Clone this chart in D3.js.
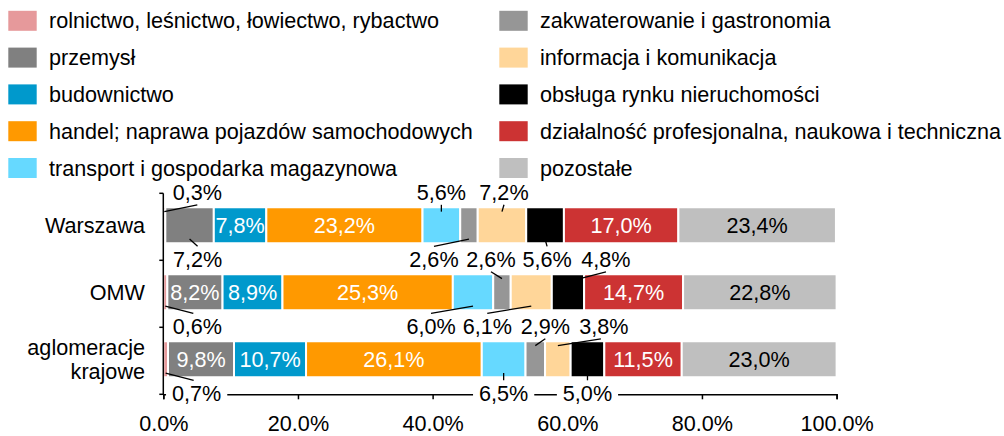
<!DOCTYPE html>
<html>
<head>
<meta charset="utf-8">
<script src="https://cdn.jsdelivr.net/npm/d3@7"></script>
<style>
  body { margin: 0; background: #fff; }
  svg { display: block; font-family: "Liberation Sans", Arial, sans-serif; }
</style>
</head>
<body>
<div id="chart"></div>
<script>
// categories (rows) and sectors (stack keys)
const categories = ["Warszawa", "OMW", "aglomeracje krajowe"];
const sectors = [
  "rolnictwo, leśnictwo, łowiectwo, rybactwo",
  "przemysł",
  "budownictwo",
  "handel; naprawa pojazdów samochodowych",
  "transport i gospodarka magazynowa",
  "zakwaterowanie i gastronomia",
  "informacja i komunikacja",
  "obsługa rynku nieruchomości",
  "działalność profesjonalna, naukowa i techniczna",
  "pozostałe"
];

// series values (%), one array per row, in sector order
const warszawa    = [0.3, 7.2, 7.8, 23.2, 5.6, 2.6, 7.2, 5.6, 17.0, 23.4];
const omw         = [0.6, 8.2, 8.9, 25.3, 6.0, 2.6, 6.1, 4.8, 14.7, 22.8];
const aglomeracje = [0.7, 9.8, 10.7, 26.1, 6.5, 2.9, 3.8, 5.0, 11.5, 23.0];

const xTicks = [0, 20, 40, 60, 80, 100];

const colors = ["#E6999B", "#808080", "#0099CC", "#FF9900", "#66D9FF",
                "#969696", "#FFD699", "#000000", "#CC3333", "#BFBFBF"];

// labels placed outside the bar (with a leader line); the rest go inside
// row, sector, side, dx = text shift from segment centre, ldx/bdx = leader end shifts
const callouts = [
  {row: 0, s: 0, side: "above", dx: 33},
  {row: 0, s: 1, side: "below", dx: 8},
  {row: 0, s: 4, side: "above", dx: 0},
  {row: 0, s: 5, side: "below", dx: -35},
  {row: 0, s: 6, side: "above", dx: 2},
  {row: 0, s: 7, side: "below", dx: 2},
  {row: 1, s: 0, side: "below", dx: 32, ldx: -4},
  {row: 1, s: 4, side: "below", dx: -42},
  {row: 1, s: 5, side: "above", dx: -11},
  {row: 1, s: 6, side: "below", dx: -44},
  {row: 1, s: 7, side: "above", dx: 38, bdx: 12},
  {row: 2, s: 0, side: "below", dx: 31, ldx: -3},
  {row: 2, s: 4, side: "below", dx: 0},
  {row: 2, s: 5, side: "above", dx: 10},
  {row: 2, s: 6, side: "above", dx: 46, ldx: -3},
  {row: 2, s: 7, side: "below", dx: 0}
];

const W = 1004, H = 436;
const FS = 21.6;
const svg = d3.select("#chart").append("svg").attr("width", W).attr("height", H);

const rows = [warszawa, omw, aglomeracje].map((vals, i) => {
  const o = {cat: categories[i]};
  sectors.forEach((s, j) => o[s] = vals[j]);
  return o;
});
const series = d3.stack().keys(sectors)(rows);

const x = d3.scaleLinear().domain([0, 100]).range([163.3, 836.6]);
const y = d3.scaleBand().domain(categories).range([193.3, 394.3])
  .paddingInner(0.463).paddingOuter(0.2315).align(0.45);
const step = y.step();
const boundary = i => y.range()[0] + i * step;
const fmt = v => v.toFixed(1).replace(".", ",") + "%";

// legend
const legend = svg.append("g");
sectors.forEach((s, i) => {
  const col = i < 5 ? 0 : 1;
  const r = i % 5;
  const lx = col ? 499.3 : 8.3;
  const cy = 20.8 + r * 36.8;
  legend.append("rect").attr("x", lx).attr("y", cy - 10).attr("width", 28.4).attr("height", 20)
    .attr("fill", colors[i]);
  legend.append("text").attr("x", lx + 40.7).attr("y", cy + 7.5)
    .attr("font-size", FS).attr("fill", "#000").text(s);
});

// bars
svg.append("g").selectAll("g").data(series).enter().append("g")
  .attr("fill", (d, i) => colors[i])
  .selectAll("rect").data(d => d).enter().append("rect")
  .attr("x", d => x(d[0]))
  .attr("y", d => y(d.data.cat))
  .attr("width", d => Math.max(0, x(d[1]) - x(d[0])))
  .attr("height", y.bandwidth())
  .attr("stroke", "#fff").attr("stroke-width", 2);

// inside labels
const isOut = (r, s) => callouts.some(c => c.row === r && c.s === s);
const inside = svg.append("g");
series.forEach((ser, s) => {
  ser.forEach((d, r) => {
    if (isOut(r, s)) return;
    inside.append("text")
      .attr("x", x((d[0] + d[1]) / 2))
      .attr("y", y(d.data.cat) + y.bandwidth() / 2 + 7.7)
      .attr("text-anchor", "middle")
      .attr("font-size", FS)
      .attr("fill", s === 9 ? "#000" : "#fff")
      .text(fmt(d[1] - d[0]));
  });
});

// y axis (line with ticks at band boundaries)
const yAxis = svg.append("g").attr("stroke", "#000").attr("stroke-width", 1.5);
yAxis.append("line").attr("x1", x(0)).attr("x2", x(0))
  .attr("y1", boundary(0)).attr("y2", boundary(3));
d3.range(4).forEach(i => {
  yAxis.append("line").attr("x1", x(0) - 4).attr("x2", x(0))
    .attr("y1", boundary(i)).attr("y2", boundary(i));
});

// category labels
categories.forEach(c => {
  const cy = y(c) + y.bandwidth() / 2;
  const words = c === "aglomeracje krajowe" ? ["aglomeracje", "krajowe"] : [c];
  words.forEach((w, k) => {
    svg.append("text").attr("x", 145).attr("text-anchor", "end")
      .attr("y", cy + 7.7 + (k - (words.length - 1) / 2) * 24)
      .attr("font-size", FS).attr("fill", "#000").text(w);
  });
});

// x axis (labels kept just inside the bottom edge)
const xAxis = svg.append("g").attr("transform", `translate(0,${boundary(3)})`)
  .call(d3.axisBottom(x).tickValues(xTicks).tickSize(5).tickSizeOuter(5).tickPadding(16.5)
    .tickFormat(d => d.toFixed(1) + "%"));
xAxis.select(".domain").attr("stroke-width", 1.5);
xAxis.selectAll(".tick line").attr("stroke-width", 1.5);
xAxis.selectAll("text").attr("font-size", FS).attr("fill", "#000")
  .attr("font-family", "Liberation Sans, Arial, sans-serif");

// callouts: backgrounds, leaders, texts
const bgG = svg.append("g"), leadG = svg.append("g"), txtG = svg.append("g");
callouts.forEach(c => {
  const d = series[c.s][c.row];
  const segX = x((d[0] + d[1]) / 2);
  const tx = segX + c.dx;
  const b = c.side === "above" ? c.row : c.row + 1;
  const base = boundary(b) + 6.5;
  const t = txtG.append("text").attr("x", tx).attr("y", base)
    .attr("text-anchor", "middle").attr("font-size", FS).attr("fill", "#000")
    .text(fmt(d[1] - d[0]));
  const tw = t.node().getComputedTextLength();
  bgG.append("rect").attr("x", tx - tw / 2 - 6).attr("y", base - 17)
    .attr("width", tw + 12).attr("height", 22).attr("fill", "#fff");
  const top = y(d.data.cat), bot = top + y.bandwidth();
  const x1 = segX + (c.bdx || 0), x2 = tx + (c.ldx || 0);
  const y1 = c.side === "above" ? top + 4.4 : bot - 4.2;
  const y2 = c.side === "above" ? base + 5 : base - 20.5;
  leadG.append("line").attr("x1", x1).attr("y1", y1).attr("x2", x2).attr("y2", y2)
    .attr("stroke", "#000").attr("stroke-width", 1.3);
});
</script>
</body>
</html>
